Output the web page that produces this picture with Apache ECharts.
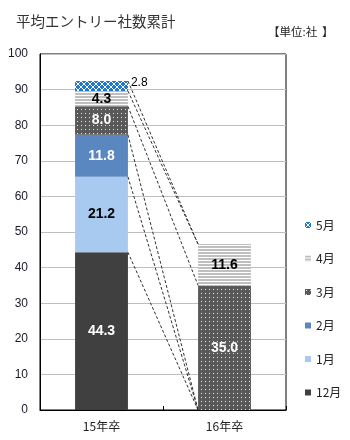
<!DOCTYPE html>
<html><head><meta charset="utf-8">
<script src="https://cdn.jsdelivr.net/npm/echarts@6/dist/echarts.min.js"></script>
<style>html,body{margin:0;padding:0;background:#fff}#c{width:350px;height:440px}</style>
</head><body><div id="c"></div>
<script>
const categories = ['15年卒', '16年卒'];
const months = ['12月', '1月', '2月', '3月', '4月', '5月'];
const dec = [44.3, null];
const jan = [21.2, null];
const feb = [11.8, null];
const mar = [8.0, 35.0];
const apr = [4.3, 11.6];
const may = [2.8, null];
const yTicks = { min: 0, max: 100, interval: 10 };

function pat(w, h, draw) {
  const c = document.createElement('canvas');
  c.width = w; c.height = h;
  const g = c.getContext('2d');
  draw(g);
  return { image: c, repeat: 'repeat' };
}
const pMay = pat(6, 6, g => {
  g.fillStyle = '#1f78c8'; g.fillRect(0, 0, 6, 6);
  g.fillStyle = '#ffffff';
  for (let i = 0; i < 6; i++) { g.fillRect(i, i, 1, 1); g.fillRect(5 - i, i, 1, 1); }
});
const pApr = pat(3, 3, g => {
  g.fillStyle = '#bfbfbf'; g.fillRect(0, 0, 3, 3);
  g.fillStyle = '#ffffff'; g.fillRect(0, 2, 3, 1);
});
const pMar = pat(4, 4, g => {
  g.fillStyle = '#595959'; g.fillRect(0, 0, 4, 4);
  g.fillStyle = '#e8e8e8'; g.fillRect(1, 1, 1, 1);
});

const seriesData = [dec, jan, feb, mar, apr, may];
const colors = ['#404040', '#a8caf0', '#5b87c0', pMar, pApr, pMay];
const labelColors = ['#fff', '#000', '#fff', '#fff', '#000', '#000'];

const numFont = 'Liberation Sans, Arial, sans-serif';
const jpFont = '"Noto Sans CJK JP", sans-serif';
const BAR = 0.43;

const series = months.map((m, i) => ({
  name: m, type: 'bar', stack: 'a', barWidth: (BAR * 100) + '%',
  data: seriesData[i],
  itemStyle: { color: colors[i] },
  label: i === 5 ? {
    show: true, position: 'right', distance: 3, offset: [0, -3],
    color: '#000', fontSize: 12, fontFamily: numFont,
    formatter: p => p.value == null ? '' : p.value.toFixed(1)
  } : {
    show: true, position: 'inside', color: labelColors[i],
    fontSize: 14, fontWeight: 'bold', fontFamily: numFont,
    formatter: p => p.value == null ? '' : p.value.toFixed(1)
  }
}));

// cumulative tops for series lines
const lineData = [];
let c0 = 0, c1 = 0;
seriesData.forEach(arr => {
  c0 += arr[0] || 0; c1 += arr[1] || 0;
  lineData.push([0, c0, c1]);
});
series.push({
  name: 'serieslines', type: 'custom', silent: true, z: 5,
  encode: { x: 0, y: 1 },
  data: lineData,
  renderItem: (params, api) => {
    const bw = api.size([1, 0])[0] * BAR;
    const p1 = api.coord([0, api.value(1)]);
    const p2 = api.coord([1, api.value(2)]);
    return {
      type: 'line',
      shape: { x1: p1[0] + bw / 2, y1: p1[1], x2: p2[0] - bw / 2, y2: p2[1] },
      style: { stroke: '#303030', lineWidth: 1, lineDash: [3, 2] }
    };
  }
});

const chart = echarts.init(document.getElementById('c'), null, { renderer: 'canvas' });
chart.setOption({
  animation: false,
  title: [
    { text: '平均エントリー社数累計', left: 11, top: 9, textStyle: { fontFamily: jpFont, fontSize: 14.5, fontWeight: 'normal', color: '#333' } }
  ],
  graphic: [
    { type: 'text', x: 268, y: 26, style: { text: '【単位:社', fontFamily: jpFont, fontSize: 11.5, fill: '#222' } },
    { type: 'text', x: 322, y: 26, style: { text: '】', fontFamily: jpFont, fontSize: 11.5, fill: '#222' } }
  ],
  grid: { left: 40, right: 64, top: 54, bottom: 30, show: true, borderColor: '#000', borderWidth: 1 },
  legend: {
    data: ['5月', '4月', '3月', '2月', '1月', '12月'],
    orient: 'vertical', left: 300, top: 213,
    itemWidth: 6, itemHeight: 6, itemGap: 19.5, icon: 'rect',
    textStyle: { fontFamily: jpFont, fontSize: 12, color: '#222', lineHeight: 14 }
  },
  xAxis: {
    type: 'category', data: categories,
    axisLine: { lineStyle: { color: '#000' } },
    axisTick: { show: true, inside: true, length: 4, lineStyle: { color: '#000' } },
    axisLabel: { fontFamily: jpFont, fontSize: 12, color: '#222', margin: 10 }
  },
  yAxis: {
    type: 'value', min: yTicks.min, max: yTicks.max, interval: yTicks.interval,
    axisLine: { show: true, lineStyle: { color: '#000' } },
    axisTick: { show: false },
    axisLabel: { fontFamily: numFont, fontSize: 12, color: '#1a1a2a', margin: 12 },
    splitLine: { lineStyle: { color: '#bfbfbf' } }
  },
  series
});
</script></body></html>
